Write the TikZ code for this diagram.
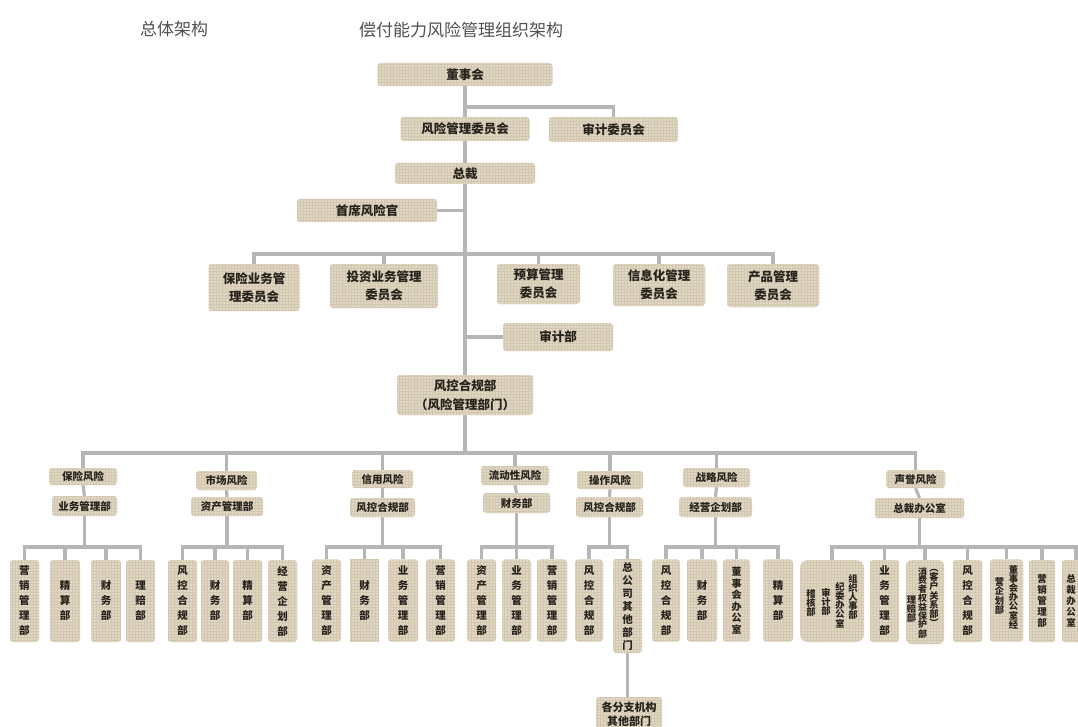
\documentclass[tikz,border=0pt]{standalone}
\usepackage{fontspec}
\newfontfamily\cjk{Noto Sans CJK SC}
\usetikzlibrary{backgrounds,patterns}
\definecolor{boxc}{RGB}{225,215,195}
\definecolor{texc}{RGB}{210,199,176}
\definecolor{linec}{RGB}{182,182,182}
\definecolor{txtc}{RGB}{38,34,28}
\definecolor{titc}{RGB}{80,80,80}
\tikzset{
  box/.style={fill=boxc, postaction={pattern=grid, pattern color=texc}, rounded corners=3pt, inner sep=0pt, align=center, text=txtc,
    font=\cjk\bfseries\fontsize{12.5}{18}\selectfont},
  riskbox/.style={box, font=\cjk\bfseries\fontsize{10.5}{13}\selectfont},
  colbox/.style={box, minimum width=29pt, minimum height=82pt,
    font=\cjk\bfseries\fontsize{10.5}{15}\selectfont},
  conn/.style={draw=linec, line width=3.2pt},
  vtxt/.style={inner sep=0pt, align=center, text=txtc},
  tinyv/.style={vtxt, font=\cjk\bfseries\fontsize{9.3}{9.2}\selectfont},
  titletext/.style={font=\cjk\fontsize{17}{20}\selectfont, text=titc, inner sep=0pt}
}
\begin{document}
\begin{tikzpicture}[x=1pt,y=-1pt]
\useasboundingbox (0,0) rectangle (1078,727);
% titles
\node[titletext] (t1) at (174,29) {总体架构};
\node[titletext] (t2) at (461,30) {偿付能力风险管理组织架构};
% top chain
\node[box, minimum width=175pt, minimum height=23pt] (dsh) at (465,74.5) {董事会};
\node[box, minimum width=129pt, minimum height=24pt] (fxw) at (465,129) {风险管理委员会};
\node[box, minimum width=129pt, minimum height=25pt] (sjw) at (613.5,129.5) {审计委员会};
\node[box, minimum width=140pt, minimum height=21pt] (zc) at (465,173.5) {总裁};
\node[box, minimum width=140pt, minimum height=23pt] (sx) at (367,210.5) {首席风险官};
% committees
\node[box, minimum width=91pt, minimum height=47pt] (c1) at (254,287.5) {保险业务管\\理委员会};
\node[box, minimum width=108pt, minimum height=44pt] (c2) at (384,286) {投资业务管理\\委员会};
\node[box, minimum width=83pt, minimum height=40pt] (c3) at (538.5,284) {预算管理\\委员会};
\node[box, minimum width=92pt, minimum height=42pt] (c4) at (659,285) {信息化管理\\委员会};
\node[box, minimum width=92pt, minimum height=43pt] (c5) at (773,285.5) {产品管理\\委员会};
\node[box, minimum width=110pt, minimum height=28pt] (sjb) at (558,337) {审计部};
\node[box, minimum width=136pt, minimum height=40pt, font=\cjk\bfseries\fontsize{12.5}{19}\selectfont] (fk) at (465,395) {风控合规部\\（风险管理部门）};
% risk groups
\node[riskbox, minimum width=68pt, minimum height=17pt] (g1r) at (83,476.5) {保险风险};
\node[riskbox, minimum width=65pt, minimum height=20pt] (g1d) at (84.5,506) {业务管理部};
\node[riskbox, minimum width=61pt, minimum height=19pt] (g2r) at (226.5,480.5) {市场风险};
\node[riskbox, minimum width=72pt, minimum height=19pt] (g2d) at (227,506.5) {资产管理部};
\node[riskbox, minimum width=61pt, minimum height=18pt] (g3r) at (382.5,479) {信用风险};
\node[riskbox, minimum width=65pt, minimum height=19pt] (g3d) at (382.5,507.5) {风控合规部};
\node[riskbox, minimum width=68pt, minimum height=19pt] (g4r) at (515,475.5) {流动性风险};
\node[riskbox, minimum width=67pt, minimum height=20pt] (g4d) at (516.5,503) {财务部};
\node[riskbox, minimum width=66pt, minimum height=18pt] (g5r) at (610,480) {操作风险};
\node[riskbox, minimum width=67pt, minimum height=20pt] (g5d) at (609.5,507) {风控合规部};
\node[riskbox, minimum width=67pt, minimum height=19pt] (g6r) at (716.5,477.5) {战略风险};
\node[riskbox, minimum width=73pt, minimum height=20pt] (g6d) at (715.5,507) {经营企划部};
\node[riskbox, minimum width=59pt, minimum height=18pt] (g7r) at (915.5,479) {声誉风险};
\node[riskbox, minimum width=89pt, minimum height=20pt] (g7d) at (919.5,508) {总裁办公室};
% columns group 1
\node[colbox] (g1c1) at (24.5,601) {营\\销\\管\\理\\部};
\node[colbox, minimum width=30pt] (g1c2) at (65,601) {精\\算\\部};
\node[colbox, minimum width=30pt] (g1c3) at (106,601) {财\\务\\部};
\node[colbox] (g1c4) at (140.5,601) {理\\赔\\部};
% group 2
\node[colbox] (g2c1) at (182.5,601) {风\\控\\合\\规\\部};
\node[colbox, minimum width=28pt] (g2c2) at (215,601) {财\\务\\部};
\node[colbox] (g2c3) at (247.5,601) {精\\算\\部};
\node[colbox] (g2c4) at (282.5,601) {经\\营\\企\\划\\部};
% group 3
\node[colbox] (g3c1) at (326.5,600.5) {资\\产\\管\\理\\部};
\node[colbox, rounded corners=0pt] (g3c2) at (364.5,600.5) {财\\务\\部};
\node[colbox, minimum width=30pt] (g3c3) at (403,600.5) {业\\务\\管\\理\\部};
\node[colbox] (g3c4) at (440.5,600.5) {营\\销\\管\\理\\部};
% group 4
\node[colbox] (g4c1) at (481.5,600.5) {资\\产\\管\\理\\部};
\node[colbox] (g4c2) at (516.5,600.5) {业\\务\\管\\理\\部};
\node[colbox, minimum width=30pt] (g4c3) at (552,600.5) {营\\销\\管\\理\\部};
% group 5
\node[colbox, minimum width=28pt] (g5c1) at (589,600.5) {风\\控\\合\\规\\部};
\node[colbox, minimum height=94pt, font=\cjk\bfseries\fontsize{10.5}{13}\selectfont] (g5c2) at (627.5,606) {总\\公\\司\\其\\他\\部\\门};
\node[box, minimum width=66pt, minimum height=34pt, font=\cjk\bfseries\fontsize{11}{14}\selectfont] (g5x) at (629,714) {各分支机构\\其他部门};
% group 6
\node[colbox, minimum width=28pt] (g6c1) at (666,600.5) {风\\控\\合\\规\\部};
\node[colbox, minimum width=30pt] (g6c2) at (702,600.5) {财\\务\\部};
\node[colbox, minimum width=27pt, font=\cjk\bfseries\fontsize{10}{11.5}\selectfont] (g6c3) at (736.5,600.5) {董\\事\\会\\办\\公\\室};
\node[colbox, minimum width=30pt] (g6c4) at (778,600.5) {精\\算\\部};
% group 7
\node[box, minimum width=64pt, minimum height=82pt, rounded corners=8pt] (g7a) at (832,601) {};
\node[tinyv] (g7a1) at (853,597) {组\\织\\人\\事\\部};
\node[tinyv] (g7a2) at (840,605) {纪\\委\\办\\公\\室};
\node[tinyv] (g7a3) at (826,602) {审\\计\\部};
\node[tinyv] (g7a4) at (811,603) {稽\\核\\部};
\node[colbox] (g7b) at (884.5,601) {业\\务\\管\\理\\部};
\node[box, minimum width=38pt, minimum height=84pt, rounded corners=6pt] (g7c) at (925,602) {};
\node[tinyv] (g7c1) at (934,598) {︵\\客\\户\\关\\系\\部\\︶};
\node[tinyv, font=\cjk\bfseries\fontsize{9}{8.6}\selectfont] (g7c2) at (922.5,603) {消\\费\\者\\权\\益\\保\\护\\部};
\node[tinyv] (g7c3) at (911.5,609) {理\\赔\\部};
\node[colbox] (g7d1) at (967.5,601) {风\\控\\合\\规\\部};
\node[box, minimum width=33pt, minimum height=82pt] (g7e) at (1006.5,600.5) {};
\node[tinyv] (g7e1) at (1013.5,597) {董\\事\\会\\办\\公\\室\\经};
\node[tinyv] (g7e2) at (999.5,596) {营\\企\\划\\部};
\node[colbox, minimum width=26pt, font=\cjk\bfseries\fontsize{9.5}{11}\selectfont] (g7f) at (1042,601) {营\\销\\管\\理\\部};
\node[box, minimum width=28pt, minimum height=82pt] (g7g) at (1076,601) {};
\node[vtxt, font=\cjk\bfseries\fontsize{9.5}{11}\selectfont] (g7g1) at (1071,601) {总\\裁\\办\\公\\室};
% bus coordinates
\coordinate (y107) at (0,107);
\coordinate (busc) at (0,254);
\coordinate (bus0) at (0,453);
\coordinate (bus1) at (0,547);
\begin{scope}[on background layer]
\draw[conn] (dsh.south) -- (fxw.north);
\draw[conn] (dsh.south |- y107) -| (sjw.north);
\draw[conn] (fxw.south) -- (zc.north);
\draw[conn] (zc.south) -- (fk.north);
\draw[conn] (sx.east) -- (sx.east -| zc.south);
\draw[conn] (sjb.west) -- (sjb.west -| zc.south);
\draw[conn] (c1.north) |- (c5.north |- busc) -- (c5.north);
\foreach \n in {c2,c3,c4} \draw[conn] (\n.north |- busc) -- (\n.north);
\draw[conn] (fk.south) -- (fk.south |- bus0);
\draw[conn] (g1r.north) |- (g7r.north |- bus0) -- (g7r.north);
\foreach \n in {g2r,g3r,g4r,g5r,g6r} \draw[conn] (\n.north |- bus0) -- (\n.north);
\foreach \g in {g1,g2,g3,g4,g5,g6,g7} \draw[conn] (\g r.south) -- (\g d.north);
\foreach \g in {g1,g2,g3,g4,g5,g6,g7} \draw[conn] (\g d.south) -- (\g d.south |- bus1);
\draw[conn] (g1c1.north) |- (g1c4.north |- bus1) -- (g1c4.north);
\foreach \n in {g1c2,g1c3} \draw[conn] (\n.north |- bus1) -- (\n.north);
\draw[conn] (g2c1.north) |- (g2c4.north |- bus1) -- (g2c4.north);
\foreach \n in {g2c2,g2c3} \draw[conn] (\n.north |- bus1) -- (\n.north);
\draw[conn] (g3c1.north) |- (g3c4.north |- bus1) -- (g3c4.north);
\foreach \n in {g3c2,g3c3} \draw[conn] (\n.north |- bus1) -- (\n.north);
\draw[conn] (g4c1.north) |- (g4c3.north |- bus1) -- (g4c3.north);
\draw[conn] (g4c2.north |- bus1) -- (g4c2.north);
\draw[conn] (g5c1.north) |- (g5c2.north |- bus1) -- (g5c2.north);
\draw[conn] (g5c2.south) -- (g5x.north -| g5c2.south);
\draw[conn] (g6c1.north) |- (g6c4.north |- bus1) -- (g6c4.north);
\foreach \n in {g6c2,g6c3} \draw[conn] (\n.north |- bus1) -- (\n.north);
\draw[conn] (g7a.north) |- (g7g.north |- bus1) -- (g7g.north);
\foreach \n in {g7b,g7c,g7d1,g7e,g7f} \draw[conn] (\n.north |- bus1) -- (\n.north);
\end{scope}
\end{tikzpicture}
\end{document}
